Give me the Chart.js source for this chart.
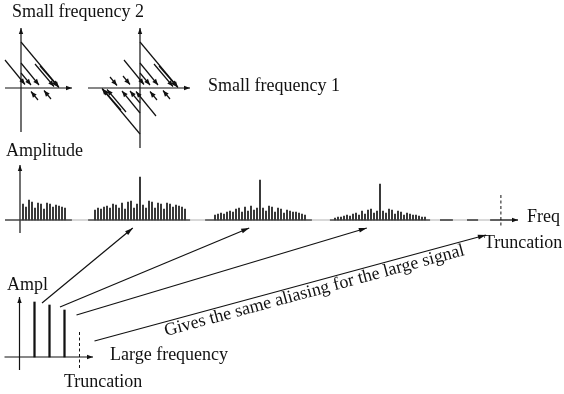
<!DOCTYPE html>
<html>
<head>
<meta charset="utf-8">
<script src="https://cdn.jsdelivr.net/npm/chart.js@4.4.1/dist/chart.umd.min.js"></script>
<style>
  html, body { margin: 0; padding: 0; background: #fff; }
  #wrap { position: relative; width: 564px; height: 394px; }
</style>
</head>
<body>
<div id="wrap"><canvas id="aliasChart" width="564" height="394"></canvas></div>
<script>
const W = 564, H = 394;

// ---- data ----

// middle spectrum: alias groups centred on multiples of the sample rate (in bins)
const groupCentres = [0, 40, 80, 120];
const groupHalf = 15;
const group1Amp = [16, 13, 20, 18, 12, 17, 16, 11, 17, 16, 13, 15, 14, 13, 12];
const group2Amp = [10, 12, 11, 13, 14, 12, 16, 15, 12, 17, 11, 18, 19, 12, 16,
  43,
  15, 12, 19, 18, 12, 17, 16, 11, 17, 16, 13, 15, 14, 13, 11];
const group3Amp = [5, 6, 7, 6, 8, 9, 8, 11, 12, 8, 13, 9, 14, 10, 12,
  40,
  12, 9, 14, 13, 8, 12, 11, 7, 10, 9, 8, 8, 7, 6, 5];
const group4Amp = [2, 3, 3, 4, 5, 4, 6, 7, 5, 9, 6, 10, 11, 7, 9,
  36,
  9, 7, 11, 10, 6, 9, 8, 5, 7, 6, 5, 5, 4, 3, 3];
const midTruncation = 160.3;
// solid pieces of the freq axis (bins)
const midAxisPieces = [[-5, 17.3], [22.7, 56.7], [61.7, 97.3], [103.3, 136.7], [140, 144.3], [149, 152.7], [156.7, 166]];

// bottom spectrum: the large frequency components
const largeBins = [1, 2, 3];
const largeAmp = [55, 52, 47];
const lowTruncation = 4;

// top: small frequency aliasing, segments x1,y1 -> x2,y2 (arrow at the end)
const smallAliasLeft = [
  [0, 46, 38, 0.5], [14, 24, 33, 1.5], [19, 22, 37, 1.5],
  [0, 25, 18, 3], [30, -11, 23, -2.5],
  [-16, 28, 4, 3.5], [17, -12, 10, -3.5],
  [0, 15, 10, 3]
];
const smallAliasRight = [
  [0, 46, 38, 0.5], [14, 24, 33, 1.5], [19, 22, 37, 1.5],
  [0, 25, 18, 3], [30, -11, 23, -2.5],
  [-16, 28, 4, 3.5], [17, -12, 10, -3.5],
  [0, 15, 10, 3],
  [0, -46, -38, -0.5], [-14, -24, -33, -1.5], [-19, -22, -37, -1.5],
  [0, -25, -18, -3], [-30, 11, -23, 2.5],
  [16, -28, -4, -3.5], [-17, 12, -10, 3.5],
  [0, -15, -10, -3]
];

// arrows from the large components (bottom units) to their aliases (middle units)
const aliasFrom = [[1.5, 54], [2.7, 50], [3.8, 42], [5.0, 16]];
const aliasTo = [[37.6, -8], [76.4, -8], [115.6, -8], [155.3, -15]];

const labels = [
  ['Small frequency 2', 12, 17],
  ['Small frequency 1', 208, 91],
  ['Amplitude', 6, 156],
  ['Freq', 527, 222],
  ['Truncation', 484, 248],
  ['Ampl', 7, 290],
  ['Large frequency', 110, 360],
  ['Truncation', 64, 387]
];
const slantLabel = ['Gives the same aliasing for the large signal', 166, 336];

// ---- layout: where each panel's origin sits and its units ----
const panels = {
  TL: { ox: 21, oy: 88, ux: 1, uy: 1 },
  TR: { ox: 140, oy: 88, ux: 1, uy: 1 },
  Mid: { ox: 20, oy: 220, ux: 3, uy: 1 },
  Low: { ox: 19.5, oy: 357, ux: 15, uy: 1 }
};

function hidden(min, max, reverse) {
  return { type: 'linear', display: false, min: min, max: max, reverse: !!reverse,
    offset: false, bounds: 'data', grace: 0 };
}
const scales = {};
for (const k in panels) {
  const p = panels[k];
  scales['x' + k] = hidden(-p.ox / p.ux, (W - p.ox) / p.ux);
  scales['y' + k] = hidden(-(H - p.oy) / p.uy, p.oy / p.uy);
}
scales.xPage = hidden(0, W);
scales.yPage = hidden(0, H, true);

// bar points for the middle spectrum
const midPoints = [];
group1Amp.forEach((a, i) => midPoints.push({ x: i + 1, y: a }));
[group2Amp, group3Amp, group4Amp].forEach((g, j) => {
  const start = groupCentres[j + 1] - groupHalf;
  g.forEach((a, i) => midPoints.push({ x: start + i, y: a }));
});
const lowPoints = largeBins.map((b, i) => ({ x: b, y: largeAmp[i] }));

const INK = '#111';

function arrowHead(ctx, x1, y1, x2, y2, len, half) {
  const a = Math.atan2(y2 - y1, x2 - x1);
  const c = Math.cos(a), s = Math.sin(a);
  ctx.beginPath();
  ctx.moveTo(x2, y2);
  ctx.lineTo(x2 - len * c + half * s, y2 - len * s - half * c);
  ctx.lineTo(x2 - len * c - half * s, y2 - len * s + half * c);
  ctx.closePath();
  ctx.fill();
}
function segment(ctx, x1, y1, x2, y2, head) {
  ctx.beginPath();
  ctx.moveTo(x1, y1);
  ctx.lineTo(x2, y2);
  ctx.stroke();
  if (head) arrowHead(ctx, x1, y1, x2, y2, head[0], head[1]);
}

const diagram = {
  id: 'diagram',
  afterDatasetsDraw(chart) {
    const ctx = chart.ctx;
    const sc = chart.scales;
    const P = (k, x, y) => [sc['x' + k].getPixelForValue(x), sc['y' + k].getPixelForValue(y)];
    const line = (k, x1, y1, x2, y2, head) => {
      const a = P(k, x1, y1), b = P(k, x2, y2);
      segment(ctx, a[0], a[1], b[0], b[1], head);
    };
    ctx.save();
    ctx.strokeStyle = INK;
    ctx.fillStyle = INK;
    ctx.lineWidth = 1.2;
    ctx.lineCap = 'butt';

    // top plots: axes and aliasing arrows
    line('TL', 0, -44, 0, 60, [6, 2.2]);
    line('TL', -16, 0, 51, 0, [6, 2.2]);
    smallAliasLeft.forEach(s => line('TL', s[0], s[1], s[2], s[3], [6, 2.4]));
    line('TR', 0, -60, 0, 60, [6, 2.2]);
    line('TR', -52, 0, 50, 0, [6, 2.2]);
    smallAliasRight.forEach(s => line('TR', s[0], s[1], s[2], s[3], [6, 2.4]));

    // middle spectrum axes
    line('Mid', 0, -13, 0, 55, [6, 2.2]);
    ctx.save();
    ctx.strokeStyle = '#a0a0a0';
    ctx.lineWidth = 0.8;
    line('Mid', midAxisPieces[0][0], 0, midAxisPieces[midAxisPieces.length - 1][1], 0);
    ctx.restore();
    midAxisPieces.forEach((p, i) => line('Mid', p[0], 0, p[1], 0,
      i === midAxisPieces.length - 1 ? [6, 2.2] : null));
    ctx.save();
    ctx.lineWidth = 1;
    ctx.setLineDash([3, 2.5]);
    line('Mid', midTruncation, 25, midTruncation, -8);
    line('Low', lowTruncation, 25, lowTruncation, -11);
    ctx.restore();

    // bottom spectrum axes
    line('Low', 0, -13, 0, 60, [6, 2.2]);
    line('Low', -1, 0, 4.9, 0, [6, 2.2]);

    // connecting arrows
    let slant = 0;
    aliasFrom.forEach((f, i) => {
      const a = P('Low', f[0], f[1]);
      const b = P('Mid', aliasTo[i][0], aliasTo[i][1]);
      segment(ctx, a[0], a[1], b[0], b[1], [8, 2.4]);
      slant = Math.atan2(b[1] - a[1], b[0] - a[0]);
    });

    // text
    ctx.font = '18px "Liberation Serif", "DejaVu Serif", serif';
    ctx.textBaseline = 'alphabetic';
    ctx.textAlign = 'left';
    labels.forEach(l => {
      const p = P('Page', l[1], l[2]);
      ctx.fillText(l[0], p[0], p[1]);
    });
    const sp = P('Page', slantLabel[1], slantLabel[2]);
    ctx.translate(sp[0], sp[1]);
    ctx.rotate(slant);
    ctx.fillText(slantLabel[0], 0, 0);
    ctx.restore();
  }
};

new Chart(document.getElementById('aliasChart'), {
  type: 'scatter',
  data: {
    datasets: [
      {
        type: 'bar',
        label: 'Aliased spectrum',
        data: midPoints,
        xAxisID: 'xMid',
        yAxisID: 'yMid',
        backgroundColor: INK,
        barThickness: 1,
        grouped: false
      },
      {
        type: 'bar',
        label: 'Large frequency',
        data: lowPoints,
        xAxisID: 'xLow',
        yAxisID: 'yLow',
        backgroundColor: INK,
        barThickness: 1.6,
        grouped: false
      }
    ]
  },
  options: {
    responsive: false,
    animation: false,
    events: [],
    layout: { padding: 0 },
    plugins: { legend: { display: false }, tooltip: { enabled: false }, title: { display: false } },
    scales: scales
  },
  plugins: [diagram]
});
</script>
</body>
</html>
